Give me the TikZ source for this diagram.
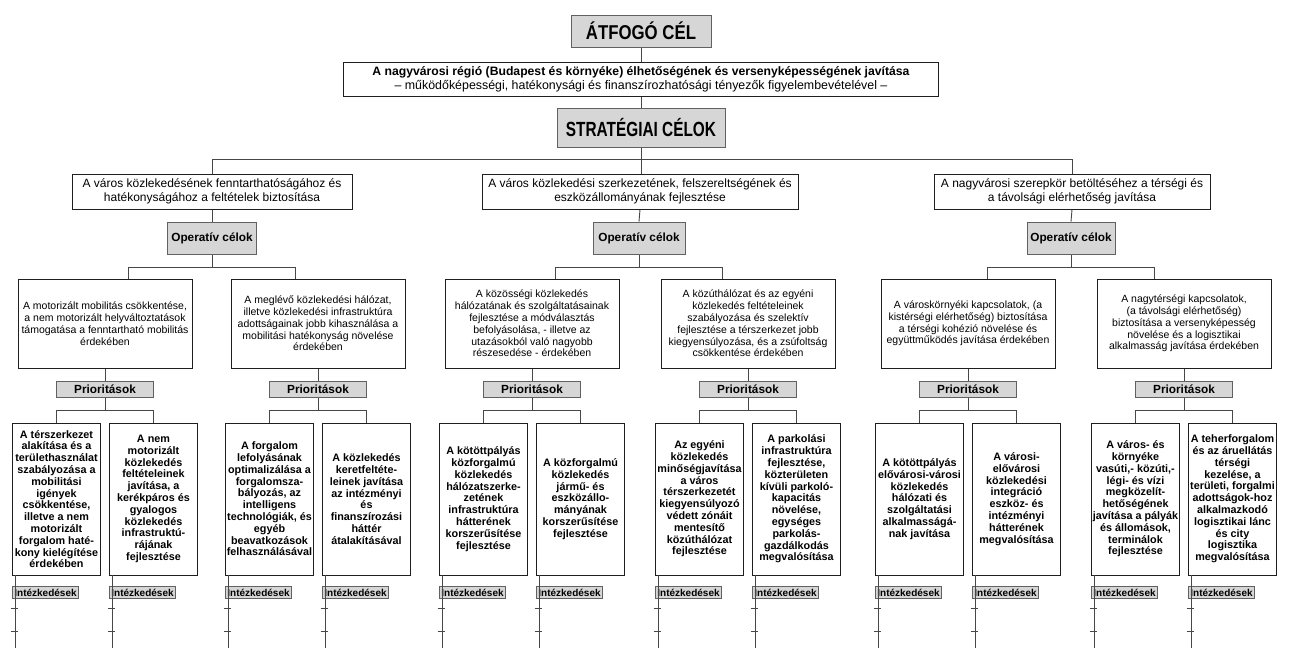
\documentclass[tikz,border=0pt]{standalone}
\usepackage{fontspec}
\setmainfont{Liberation Sans}
\newfontfamily\headfontA[FakeStretch=0.84]{Liberation Sans}
\newfontfamily\headfontB[FakeStretch=0.75]{Liberation Sans}
\pgfdeclarelayer{bg}
\pgfsetlayers{bg,main}

\tikzset{
  link/.style={draw=black!72,line width=0.9pt},
  plain/.style={draw=black!88,line width=0.9pt,fill=white,inner sep=1pt,align=center},
  shade/.style={draw=black!62,line width=0.9pt,fill=black!16,inner sep=1pt,align=center},
  headbox/.style={shade},
  stratbox/.style={plain,minimum height=35,font=\fontsize{12}{14}\selectfont},
  opbox/.style={shade,minimum height=32,font=\bfseries\fontsize{11.8}{14}\selectfont},
  aimbox/.style={plain,minimum width=174,minimum height=89,font=\fontsize{10.5}{11.8}\selectfont},
  priobox/.style={shade,minimum width=97,minimum height=16,font=\bfseries\fontsize{11.8}{13}\selectfont},
  taskbox/.style={plain,minimum width=88,minimum height=152,inner sep=0pt,font=\bfseries\fontsize{10.8}{11.8}\selectfont},
  actbox/.style={shade,anchor=north west,minimum width=66,minimum height=12,inner sep=0pt,font=\bfseries\fontsize{10}{11}\selectfont},
}

\begin{document}
\begin{tikzpicture}[x=1pt,y=-1pt]
\useasboundingbox (0,0) rectangle (1297,652);

% ---- top levels ----
\node[headbox,minimum width=140,minimum height=32,font=\headfontA\bfseries\fontsize{20}{22}\selectfont] (atf) at (641,31) {ÁTFOGÓ CÉL};
\node[plain,minimum width=595,minimum height=34,font=\fontsize{12.4}{14}\selectfont] (goal) at (641,79)
  {{\bfseries\fontsize{12.2}{14}\selectfont A nagyvárosi régió (Budapest és környéke) élhetőségének és versenyképességének javítása}\\
   – működőképességi, hatékonysági és finanszírozhatósági tényezők figyelembevételével –};
\node[headbox,minimum width=168,minimum height=39,font=\headfontB\bfseries\fontsize{20.5}{22}\selectfont] (strat) at (641,128) {STRATÉGIAI CÉLOK};

% ---- strategic goals ----
\node[stratbox,minimum width=280] (s1) at (212,191.5)
  {A város közlekedésének fenntarthatóságához és\\hatékonyságához a feltételek biztosítása};
\node[stratbox,minimum width=316] (s2) at (640,191.5)
  {A város közlekedési szerkezetének, felszereltségének és\\eszközállományának fejlesztése};
\node[stratbox,minimum width=276] (s3) at (1072,191.5)
  {A nagyvárosi szerepkör betöltéséhez a térségi és\\a távolsági elérhetőség javítása};

% ---- operative headings ----
\node[opbox,minimum width=89] (o1) at (212,238) {Operatív célok};
\node[opbox,minimum width=92] (o2) at (639,238) {Operatív célok};
\node[opbox,minimum width=88] (o3) at (1071,238) {Operatív célok};

% ---- operative goals ----
\node[aimbox] (a1) at (105,323.5)
  {A motorizált mobilitás csökkentése,\\a nem motorizált helyváltoztatások\\támogatása a fenntartható mobilitás\\érdekében};
\node[aimbox] (a2) at (318,323.5)
  {A meglévő közlekedési hálózat,\\illetve közlekedési infrastruktúra\\adottságainak jobb kihasználása a\\mobilitási hatékonyság növelése\\érdekében};
\node[aimbox] (a3) at (532,323.5)
  {A közösségi közlekedés\\hálózatának és szolgáltatásainak\\fejlesztése a módválasztás\\befolyásolása, - illetve az\\utazásokból való nagyobb\\részesedése - érdekében};
\node[aimbox] (a4) at (748,323.5)
  {A közúthálózat és az egyéni\\közlekedés feltételeinek\\szabályozása és szelektív\\fejlesztése a térszerkezet jobb\\kiegyensúlyozása, és a zsúfoltság\\csökkentése érdekében};
\node[aimbox] (a5) at (968,323.5)
  {A városkörnyéki kapcsolatok, (a\\kistérségi elérhetőség) biztosítása\\a térségi kohézió növelése és\\együttműködés javítása érdekében};
\node[aimbox] (a6) at (1184,323.5)
  {A nagytérségi kapcsolatok,\\(a távolsági elérhetőség)\\biztosítása a versenyképesség\\növelése és a logisztikai\\alkalmasság javítása érdekében};

% ---- priority headings ----
\foreach \k/\x in {1/105,2/318,3/532,4/748,5/968,6/1184}
  \node[priobox] (p\k) at (\x,389) {Prioritások};

% ---- priorities ----
\node[taskbox] (q1) at (56.5,499)
  {A térszerkezet\\alakítása és a\\területhasználat\\szabályozása a\\mobilitási\\igények\\csökkentése,\\illetve a nem\\motorizált\\forgalom haté-\\kony kielégítése\\érdekében};
\node[taskbox] (q2) at (153.5,499)
  {A nem\\motorizált\\közlekedés\\feltételeinek\\javítása, a\\kerékpáros és\\gyalogos\\közlekedés\\infrastruktú-\\rájának\\fejlesztése};
\node[taskbox] (q3) at (269.5,499)
  {A forgalom\\lefolyásának\\optimalizálása a\\forgalomsza-\\bályozás, az\\intelligens\\technológiák, és\\egyéb\\beavatkozások\\felhasználásával};
\node[taskbox] (q4) at (366.5,499)
  {A közlekedés\\keretfeltéte-\\leinek javítása\\az intézményi\\és\\finanszírozási\\háttér\\átalakításával};
\node[taskbox] (q5) at (483.5,499)
  {A kötöttpályás\\közforgalmú\\közlekedés\\hálózatszerke-\\zetének\\infrastruktúra\\hátterének\\korszerűsítése\\fejlesztése};
\node[taskbox] (q6) at (580.5,499)
  {A közforgalmú\\közlekedés\\jármű- és\\eszközállo-\\mányának\\korszerűsítése\\fejlesztése};
\node[taskbox] (q7) at (699.5,499)
  {Az egyéni\\közlekedés\\minőségjavítása\\a város\\térszerkezetét\\kiegyensúlyozó\\védett zónáit\\mentesítő\\közúthálózat\\fejlesztése};
\node[taskbox] (q8) at (796.5,499)
  {A parkolási\\infrastruktúra\\fejlesztése,\\közterületen\\kívüli parkoló-\\kapacitás\\növelése,\\egységes\\parkolás-\\gazdálkodás\\megvalósítása};
\node[taskbox] (q9) at (919.5,499)
  {A kötöttpályás\\elővárosi-városi\\közlekedés\\hálózati és\\szolgáltatási\\alkalmasságá-\\nak javítása};
\node[taskbox] (q10) at (1016.5,499)
  {A városi-\\elővárosi\\közlekedési\\integráció\\eszköz- és\\intézményi\\hátterének\\megvalósítása};
\node[taskbox] (q11) at (1135.5,499)
  {A város- és\\környéke\\vasúti,- közúti,-\\légi- és vízi\\megközelít-\\hetőségének\\javítása a pályák\\és állomások,\\terminálok\\fejlesztése};
\node[taskbox] (q12) at (1232.5,499)
  {A teherforgalom\\és az áruellátás\\térségi\\kezelése, a\\területi, forgalmi\\adottságok-hoz\\alkalmazkodó\\logisztikai lánc\\és city\\logisztika\\megvalósítása};

% ---- connectors behind the boxes ----
\begin{pgfonlayer}{bg}
  \fill[white] (0,0) rectangle (1297,652);
  \draw[link] (atf.south) -- (goal.north);
  \draw[link] (goal.south) -- (strat.north);
  \draw[link] (strat.south) -- ++(0,12) -| (s1.north);
  \draw[link] (strat.south) -- ++(0,12) -| (s3.north);
  \draw[link] (strat.south) -- (strat.south |- s2.north);
  \foreach \k in {1,2,3}
    \draw[link] (s\k.south) -- (o\k.north);
  \draw[link] (o1.south) -- ++(0,13) -| ([xshift=23.5pt]a1.north);
  \draw[link] (o1.south) -- ++(0,13) -| ([xshift=-22.5pt]a2.north);
  \draw[link] (o2.south) -- ++(0,13) -| ([xshift=23.5pt]a3.north);
  \draw[link] (o2.south) -- ++(0,13) -| ([xshift=-25.5pt]a4.north);
  \draw[link] (o3.south) -- ++(0,13) -| ([xshift=19.5pt]a5.north);
  \draw[link] (o3.south) -- ++(0,13) -| ([xshift=-29.5pt]a6.north);
  \foreach \k in {1,...,6}
    \draw[link] (a\k.south) -- (p\k.north);
  \foreach \k/\l/\r in {1/1/2,2/3/4,3/5/6,4/7/8,5/9/10,6/11/12} {
    \draw[link] (p\k.south) -- ++(0,13) -| (q\l.north);
    \draw[link] (p\k.south) -- ++(0,13) -| (q\r.north);
  }
\end{pgfonlayer}

% ---- measures under each priority ----
\foreach \q in {1,...,12} {
  \node[actbox] (m\q) at ([yshift=-11pt]q\q.south west) {Intézkedések};
  \draw[link] ([xshift=3.5pt]q\q.south west) -- ++(0,73) coordinate (e\q);
  \draw[link] ([xshift=3.5pt]q\q.south west) ++(-5,33) -- ++(7,0);
  \draw[link] ([xshift=3.5pt]q\q.south west) ++(-5,56) -- ++(7,0);
}
\end{tikzpicture}
\end{document}
